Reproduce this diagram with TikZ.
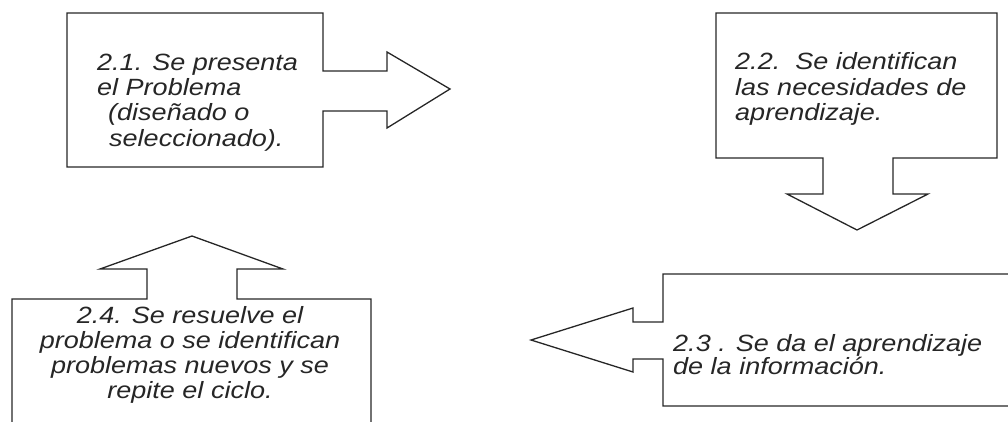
\documentclass[tikz,border=0pt]{standalone}
\usepackage{fontspec}
\newfontfamily\lab[FakeStretch=1.15]{Liberation Sans}
\begin{document}
\begin{tikzpicture}[x=1pt,y=-1pt,
  shapeline/.style={draw=black!85,line width=1.3pt,line join=miter},
  lbl/.style={inner sep=0pt,text=black!85,font={\lab\itshape\fontsize{23.5}{25.3}\selectfont}}]
\useasboundingbox (0,0) rectangle (1008,421);
\clip (0,0) rectangle (1008,421);
% shape 2.1
\draw[shapeline] (67,13) -- (323,13) -- (323,71) -- (387,71) -- (387,52) -- (450,89)
  -- (387,128) -- (387,111) -- (323,111) -- (323,167) -- (67,167) -- cycle;
% shape 2.2
\draw[shapeline] (716,13) -- (997,13) -- (997,158) -- (893,158) -- (893,194) -- (928,194)
  -- (857,230) -- (787,194) -- (823,194) -- (823,158) -- (716,158) -- cycle;
% shape 2.3
\draw[shapeline] (1020,274) -- (663,274) -- (663,322) -- (633,322) -- (633,308) -- (531,340)
  -- (633,372) -- (633,359) -- (663,359) -- (663,406) -- (1020,406);
% shape 2.4
\draw[shapeline] (12,430) -- (12,299) -- (147,299) -- (147,269) -- (100,269) -- (192,236)
  -- (283,269) -- (237,269) -- (237,299) -- (371,299) -- (371,430);
% texts
\node[lbl,anchor=north west,align=left] (t1) at (97,53.5)
  {2.1. Se presenta\\el Problema\\\hspace*{11pt}(diseñado o\\\hspace*{12pt}seleccionado).};
\node[lbl,anchor=north west,align=left] (t2) at (735,52.5)
  {2.2.\ \ Se identifican\\las necesidades de\\aprendizaje.};
\node[lbl,anchor=north west,align=left,font={\lab\itshape\fontsize{23.5}{21}\selectfont}] (t3) at (673,334)
  {2.3 . Se da el aprendizaje\\de la información.};
\node[lbl,anchor=north,align=center,font={\lab\itshape\fontsize{23.5}{25}\selectfont}] (t4) at (190,306)
  {2.4. Se resuelve el\\problema o se identifican\\problemas nuevos y se\\repite el ciclo.};
\end{tikzpicture}
\end{document}
